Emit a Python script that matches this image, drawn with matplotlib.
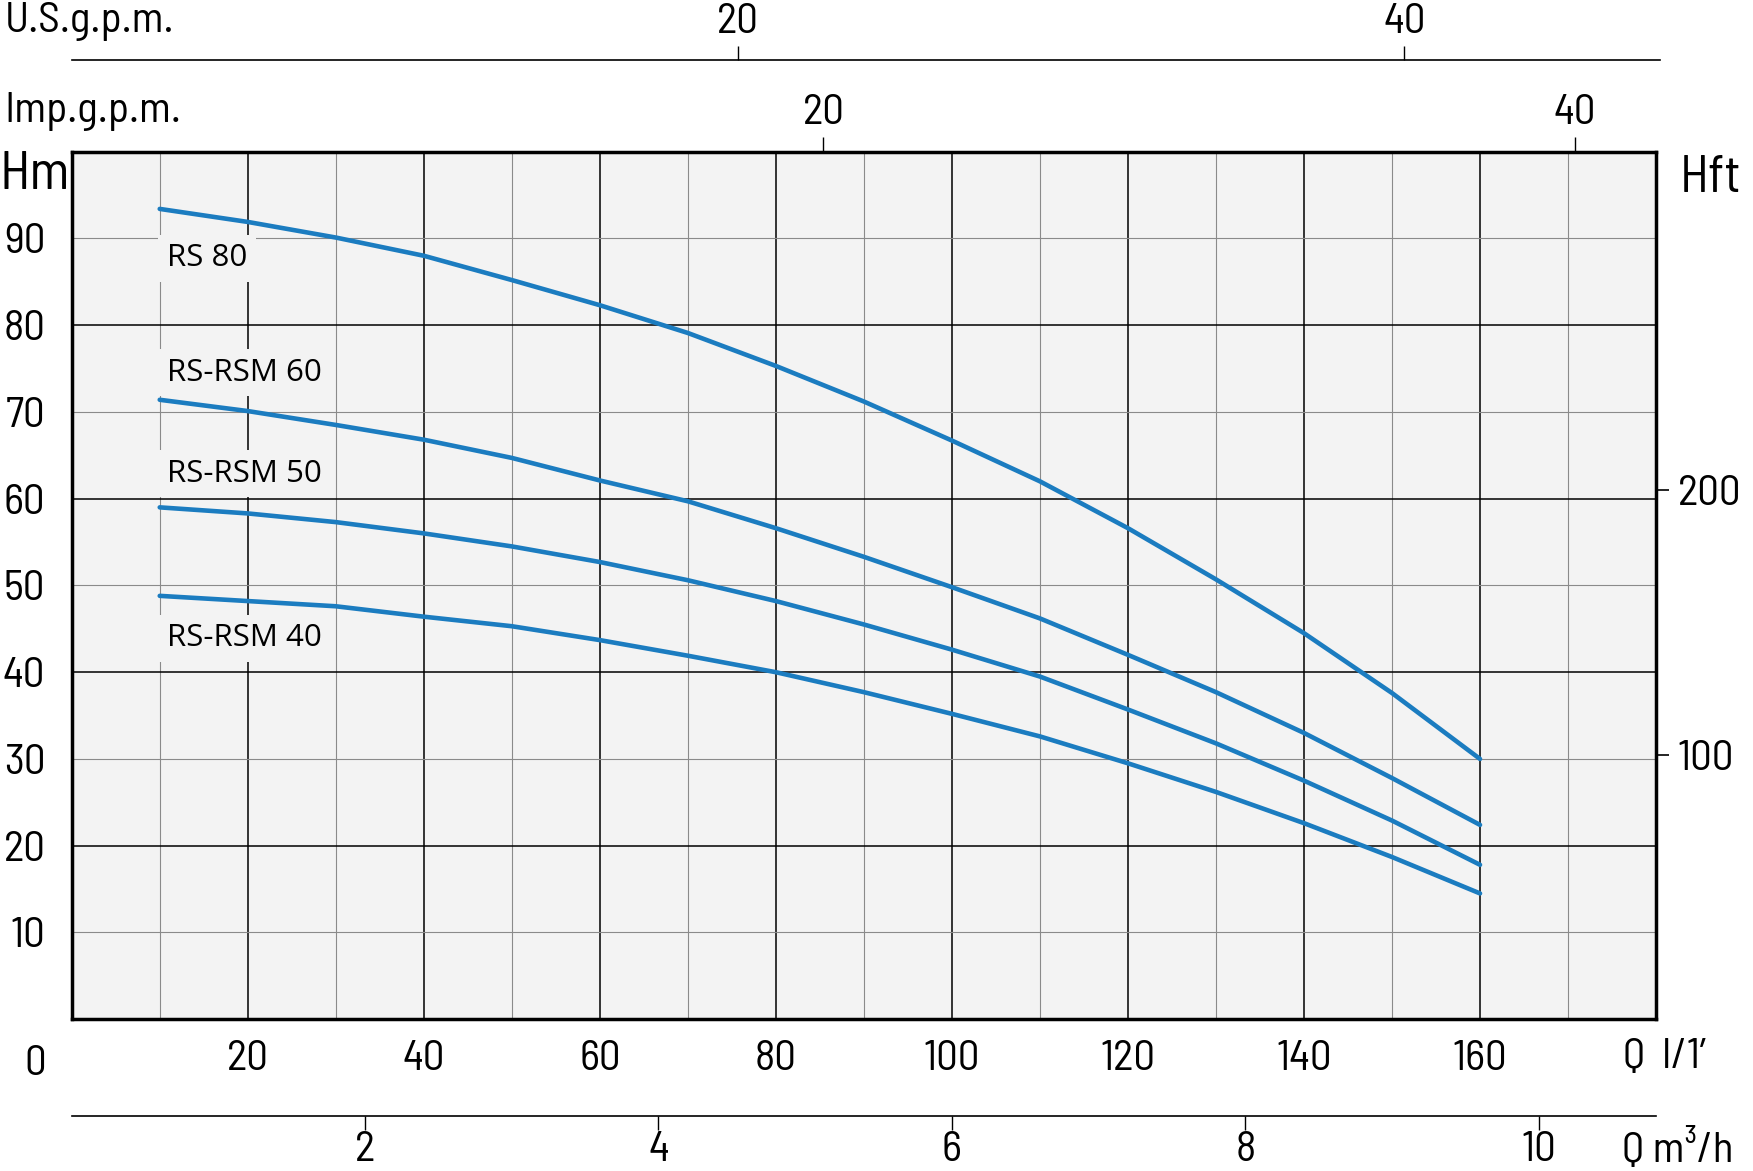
import numpy as np
import matplotlib
matplotlib.use('Agg')
import matplotlib.pyplot as plt
from matplotlib import font_manager
from matplotlib.font_manager import FontProperties
from matplotlib.ticker import FixedLocator, NullFormatter

# flow in l/min, head in m
flow_lpm = [10, 20, 30, 40, 50, 60, 70, 80, 90, 100, 110, 120, 130, 140, 150, 160]
head_rs80 = [93.4, 91.9, 90.1, 88.0, 85.2, 82.3, 79.1, 75.3, 71.2, 66.7, 62.0, 56.6, 50.7, 44.5, 37.6, 30.0]
head_rsm60 = [71.4, 70.1, 68.5, 66.8, 64.7, 62.1, 59.7, 56.6, 53.3, 49.8, 46.2, 42.0, 37.7, 33.0, 27.8, 22.4]
head_rsm50 = [59.0, 58.3, 57.3, 56.0, 54.5, 52.7, 50.6, 48.2, 45.5, 42.6, 39.5, 35.7, 31.8, 27.5, 22.9, 17.8]
head_rsm40 = [48.8, 48.2, 47.6, 46.4, 45.3, 43.7, 41.9, 40.0, 37.7, 35.2, 32.6, 29.5, 26.2, 22.6, 18.7, 14.5]
curve_names = ['RS 80', 'RS-RSM 60', 'RS-RSM 50', 'RS-RSM 40']

lpm_major = [20, 40, 60, 80, 100, 120, 140, 160]
hm_major = [20, 40, 60, 80]
hm_minor = [10, 30, 50, 70, 90]
hft_ticks = [100, 200]
us_gpm_ticks = [20, 40]
imp_gpm_ticks = [20, 40]
m3h_ticks = [2, 4, 6, 8, 10]

US_LPM = 3.785      # l/min per US gallon
IMP_LPM = 4.27      # scale as drawn on the sheet
M3H_LPM = 1000 / 60
FT_M = 0.3048

BLUE = '#1b7cc0'
BG = '#f3f3f3'

# narrow upright face for the axis text
fl = font_manager.fontManager.ttflist

def find(name):
    for f in fl:
        if f.name == name and f.style == 'normal' and f.weight in (400, 'normal', 'regular'):
            return f.fname
    for f in fl:
        if f.name == name and f.style == 'normal':
            return f.fname
    return None

path = None
for cand in ['Barlow Semi Condensed', 'Barlow Condensed', 'Roboto Condensed', 'Liberation Sans Narrow']:
    path = find(cand)
    if path:
        break
if path:
    axis_font = FontProperties(fname=path)
    TS = 31
else:
    axis_font = FontProperties(family='DejaVu Sans')
    TS = 27

def tp(size):
    p = axis_font.copy()
    p.set_size(size)
    return p

def style_labels(labels, size):
    for t in labels:
        t.set_fontproperties(tp(size))

fig = plt.figure(figsize=(17.53, 11.71), dpi=100)
ax = fig.add_axes([0.0409, 0.1296, 0.9038, 0.7409])
ax.set_xlim(0, 180)
ax.set_ylim(0, 100)
ax.set_facecolor(BG)

ax.xaxis.set_major_locator(FixedLocator(lpm_major))
ax.xaxis.set_minor_locator(FixedLocator(list(range(10, 180, 20))))
ax.xaxis.set_minor_formatter(NullFormatter())
ax.yaxis.set_major_locator(FixedLocator(hm_major))
ax.yaxis.set_minor_locator(FixedLocator(hm_minor))
ax.set_yticklabels([str(v) for v in hm_major])
ax.set_yticklabels([str(v) for v in hm_minor], minor=True)
ax.tick_params(which='both', length=0)
ax.tick_params(axis='y', which='both', pad=19)
ax.tick_params(axis='x', which='both', pad=15)
style_labels(ax.get_xticklabels() + ax.get_yticklabels() + ax.get_yticklabels(minor=True), TS)
ax.grid(which='major', color='black', linewidth=1.1)
ax.grid(which='minor', color='#8a8a8a', linewidth=0.8)
ax.set_axisbelow(True)
for s in ax.spines.values():
    s.set_linewidth(2.5)

for heads in [head_rs80, head_rsm60, head_rsm50, head_rsm40]:
    ax.plot(flow_lpm, heads, color=BLUE, linewidth=3.3, solid_capstyle='round', zorder=4)

label_y = [87.7, 74.5, 62.9, 43.9]
for name, ly in zip(curve_names, label_y):
    ax.text(10.8, ly, name, family='Open Sans', stretch='normal', weight='normal',
            fontsize=22.5, va='center', ha='left',
            bbox=dict(facecolor=BG, edgecolor='none', pad=6), zorder=3)

# feet on the right
axr = ax.twinx()
axr.set_ylim(0, 100 / FT_M)
axr.set_yticks(hft_ticks)
axr.tick_params(axis='y', direction='out', length=9.5, width=1.2, pad=6)
style_labels(axr.get_yticklabels(), TS)
for s in axr.spines.values():
    s.set_visible(False)

# imperial gallons along the top of the frame
axi = ax.twiny()
axi.set_xlim(0, 180)
axi.set_xticks([g * IMP_LPM for g in imp_gpm_ticks])
axi.set_xticklabels([str(g) for g in imp_gpm_ticks])
axi.tick_params(axis='x', direction='out', length=10.5, width=1.0, pad=3)
style_labels(axi.get_xticklabels(), TS)
for s in axi.spines.values():
    s.set_visible(False)

# US gallons, separate line above
x_us_end = 180.5
axu = fig.add_axes([0.0409, 0.9488, 0.9038 * x_us_end / 180, 0.0001])
axu.set_xlim(0, x_us_end)
axu.set_yticks([])
axu.xaxis.set_ticks_position('top')
axu.set_xticks([g * US_LPM for g in us_gpm_ticks])
axu.set_xticklabels([str(g) for g in us_gpm_ticks])
axu.tick_params(axis='x', direction='out', length=10, width=1.0, pad=3)
style_labels(axu.get_xticklabels(), TS)
for k, s in axu.spines.items():
    s.set_visible(k == 'top')
    s.set_linewidth(1.2)

# m3/h line below
axm = fig.add_axes([0.0409, 0.0472, 0.9038, 0.0001])
axm.set_xlim(0, 180)
axm.set_yticks([])
axm.set_xticks([q * M3H_LPM for q in m3h_ticks])
axm.set_xticklabels([str(q) for q in m3h_ticks])
axm.tick_params(axis='x', direction='out', length=10, width=1.0, pad=1)
style_labels(axm.get_xticklabels(), TS)
for k, s in axm.spines.items():
    s.set_visible(k == 'bottom')
    s.set_linewidth(1.2)

fig.text(0.0026, 0.9727, 'U.S.g.p.m.', fontproperties=tp(TS), ha='left', va='baseline')
fig.text(0.0026, 0.8962, 'Imp.g.p.m.', fontproperties=tp(TS), ha='left', va='baseline')
fig.text(0.0, 0.8386, 'Hm', fontproperties=tp(TS + 8), ha='left', va='baseline')
fig.text(0.9584, 0.8363, 'Hft', fontproperties=tp(TS + 6), ha='left', va='baseline')
fig.text(0.02, 0.082, '0', fontproperties=tp(TS), ha='center', va='baseline')
fig.text(0.9258, 0.088, 'Q  l/1\u2019', fontproperties=tp(TS), ha='left', va='baseline')
fig.text(0.925, 0.008, 'Q m\u00b3/h', fontproperties=tp(TS), ha='left', va='baseline')

fig.savefig('out.png', dpi=100)
